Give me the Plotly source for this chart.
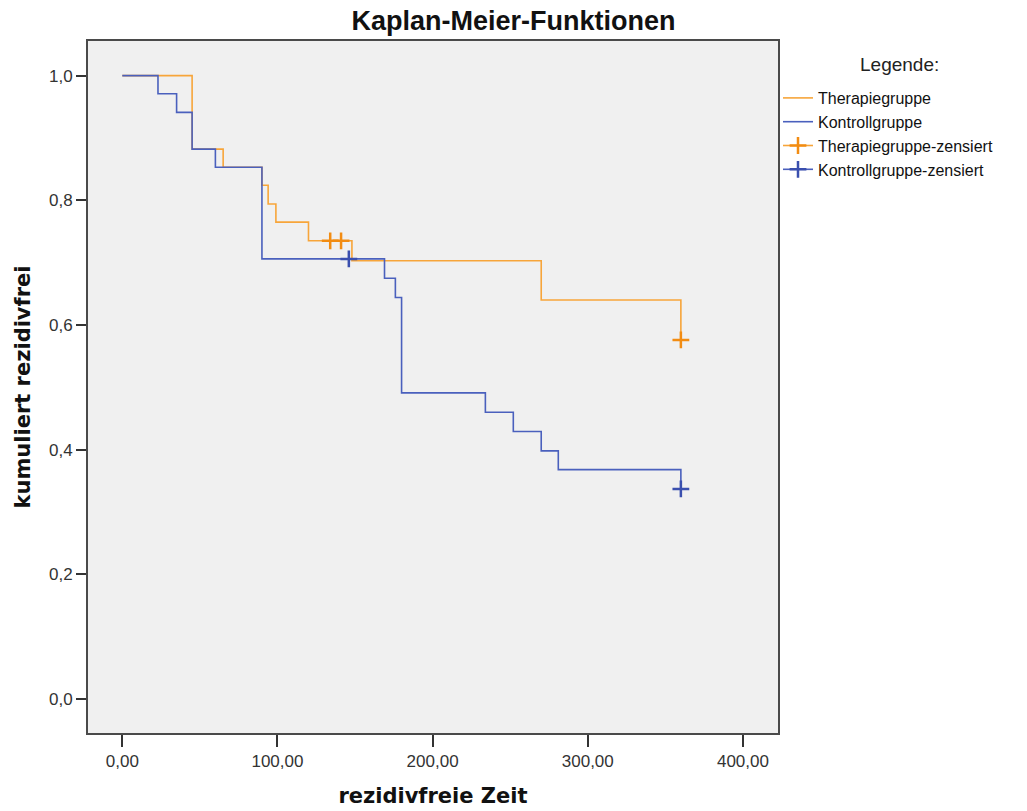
import plotly.graph_objects as go

# Kaplan-Meier step curves (time in days, cumulative recurrence-free proportion)
therapie_t = [0, 45, 65, 90, 94, 99, 120, 148, 270, 360]
therapie_s = [1.0, 0.882, 0.853, 0.824, 0.794, 0.765, 0.735, 0.703, 0.640, 0.576]
therapie_cens_t = [134, 141, 360]
therapie_cens_s = [0.735, 0.735, 0.576]

kontroll_t = [0, 23, 35, 45, 60, 90, 169, 176, 180, 234, 252, 270, 281, 360]
kontroll_s = [1.0, 0.971, 0.941, 0.882, 0.853, 0.706, 0.675, 0.644, 0.491, 0.460,
              0.429, 0.398, 0.368, 0.337]
kontroll_cens_t = [146, 360]
kontroll_cens_s = [0.706, 0.337]

x_ticks = [0, 100, 200, 300, 400]
y_ticks = [0.0, 0.2, 0.4, 0.6, 0.8, 1.0]

ORANGE = "#f7a53a"
ORANGE_M = "#f28c12"
BLUE = "#4a60bd"
BLUE_M = "#3a4fae"


def gaps(xs, ys):
    gx, gy = [], []
    for i, (a, b) in enumerate(zip(xs, ys)):
        if i:
            gx.append(None)
            gy.append(None)
        gx.append(a)
        gy.append(b)
    return gx, gy


fig = go.Figure()
fig.add_trace(go.Scatter(x=therapie_t, y=therapie_s, mode="lines", line_shape="hv",
                         line=dict(color=ORANGE, width=1.6), name="Therapiegruppe"))
fig.add_trace(go.Scatter(x=kontroll_t, y=kontroll_s, mode="lines", line_shape="hv",
                         line=dict(color=BLUE, width=1.6), name="Kontrollgruppe"))
tx, ty = gaps(therapie_cens_t, therapie_cens_s)
fig.add_trace(go.Scatter(x=tx, y=ty, mode="lines+markers", connectgaps=False,
                         line=dict(color=ORANGE, width=1.6),
                         marker=dict(symbol="cross-thin", size=12,
                                     line=dict(color=ORANGE_M, width=2.5)),
                         name="Therapiegruppe-zensiert"))
kx, ky = gaps(kontroll_cens_t, kontroll_cens_s)
fig.add_trace(go.Scatter(x=kx, y=ky, mode="lines+markers", connectgaps=False,
                         line=dict(color=BLUE, width=1.6),
                         marker=dict(symbol="cross-thin", size=12,
                                     line=dict(color=BLUE_M, width=2.5)),
                         name="Kontrollgruppe-zensiert"))

tick_font = dict(family="Liberation Sans, Arial, sans-serif", size=17, color="#333333")
title_font = dict(family="DejaVu Sans, sans-serif", size=21, color="#111111")

fig.update_layout(
    width=1027, height=811,
    margin=dict(l=88, r=249, t=41, b=78, autoexpand=False),
    paper_bgcolor="white",
    plot_bgcolor="#f0f0f0",
    separators=",.",
    title=dict(text="<b>Kaplan-Meier-Funktionen</b>", x=0.5, xref="container", xanchor="center",
               y=1 - 21 / 811, yref="container", yanchor="middle",
               font=dict(family="Liberation Sans, Arial, sans-serif", size=27, color="#111111")),
    xaxis=dict(range=[-22.1, 422.6], tickvals=x_ticks, tickformat=".2f",
               showgrid=False, zeroline=False,
               showline=True, linecolor="#4a4a4a", linewidth=2, mirror=True,
               ticks="outside", ticklen=12, tickwidth=2, tickcolor="#333333",
               tickfont=tick_font,
               title=dict(text="<b>rezidivfreie Zeit</b>", font=title_font, standoff=18)),
    yaxis=dict(range=[-0.0545, 1.0555], tickvals=y_ticks, tickformat=".1f",
               showgrid=False, zeroline=False,
               showline=True, linecolor="#4a4a4a", linewidth=2, mirror=True,
               ticks="outside", ticklen=10, tickwidth=2, tickcolor="#333333",
               tickfont=tick_font,
               title=dict(text="<b>kumuliert rezidivfrei</b>", font=title_font, standoff=13)),
    legend=dict(xref="container", yref="container", x=778 / 1027, y=1 - 81 / 811,
                xanchor="left", yanchor="top",
                bgcolor="rgba(0,0,0,0)",
                font=dict(family="Liberation Sans, Arial, sans-serif", size=16, color="#111111"),
                itemwidth=30, tracegroupgap=0),
    annotations=[dict(text="Legende:", xref="paper", yref="paper",
                      x=(899 - 88) / 690, y=(733 - 64) / 692, xanchor="center", yanchor="middle",
                      showarrow=False,
                      font=dict(family="Liberation Sans, Arial, sans-serif", size=19,
                                color="#222222"))],
    showlegend=True,
)

fig.write_html("out.html")
